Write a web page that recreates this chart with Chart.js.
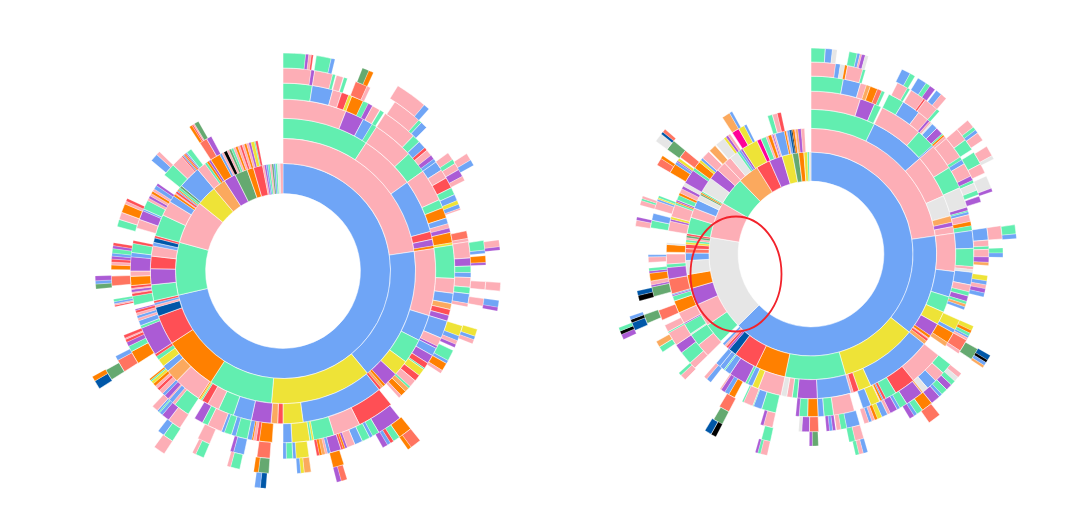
<!DOCTYPE html>
<html>
<head>
<meta charset="utf-8">
<script src="https://cdn.jsdelivr.net/npm/chart.js@4"></script>
<style>
html,body{margin:0;padding:0;background:#fff;width:1085px;height:530px;overflow:hidden}
canvas{position:absolute;filter:blur(0.35px)}
</style>
</head>
<body>
<canvas id="left"></canvas>
<canvas id="right"></canvas>
<script>
// Each token = category key + cumulative degrees clockwise from 12 o'clock at the end of that slice.
// "_" is an empty stretch of a ring.
const L1=("b257 g285.5 p309 y320 l327 v333.5 d340.5 o344 r349 p350 v351 b352 g353 p354 d355 b356 g357 w358.5 p360").split(" ");
const L2=("p81.5 b140.5 y185 g213 o237 r250 n254 p255 b256 r257 g264 v271 r276.5 p281 b282.5 n284.5 r285.5 g295 p301.5 b304.5 o305.5 p306 r307 b307.5 o308 g309 d310 b320 p324 g325 o326 v327 o331.5 b332.5 p333.5 k335 p336 d337 g338 p339 o340 p341 r342 p343 o344 p345 v346 y347.5 g348 r349").split(" ");
const L3=("g33 p54.5 b75 r78 v80.5 o81.5 p107 b117 g126.5 y132.5 v138 o139 l140 r141 b172.4 y180 r182 l184.5 v192 b199 g205 p209.5 r212 g212.5 y213 o213.5 p224 l229 b231.5 y234.5 g236 r237 v248 g249 b251 p252 b253 p254 r255 v255.5 _257 g260.5 r261.5 p262 v263 p263.5 r264.5 o268 p270 v275.4 b277 g280.5 r281.5 _286.4 p289.8 v293.3 b294 g297.5 p298.5 v299.5 p300.5 o301.5 p302.5 b304 v305 _309 g314 p318.5 r319 b319.5 o320 r320.5 b321 g323 _327 s330 v332").split(" ");
const L4=("p21.5 v27.9 b31.3 g33 p47 g54.5 p65.5 g68.4 o72 b74 p75.5 v77 o80.5 y81.3 g92.5 p97.5 b101 l103 r105 v107 b113 p116 v116.8 b119.5 v122.5 r124.5 g125 y127.5 r129.7 p132.3 g133 l134.5 o136.5 p137.5 _141 r153.5 p162.7 g169.7 y170.3 g171 y177 b180 _183.6 o188 r189 p190 o190.5 b192 g196 b197.5 g200 b201 p206 g208 v211 _213.5 g219 p220 b221.5 p222 v223.5 b224.5 p226 r227 p228 o229 y230 g230.5 o231 _237.5 o242 g244 v245.5 r246.5 p247 r248 _258 r258.5 p259 b259.7 g260.5 _265 s268.3 _270.5 o272 p273 r274 v275 b276 g277.5 v278.5 r279.5 _285 g287.5 p290 o293 p294 r295 _310 b312.7 p314 _327 o328 r328.5 p329 d330.5").split(" ");
const L5=("g9 b15.4 p18.2 r20.5 y21.5 o25.3 g27 v28.5 p31 _31.2 g32.5 _33 p44 g46.5 b49 r50 p52 v53.4 b54.5 b57.5 p60.3 r63.7 g66 b68 y69.2 b70.5 p71 _77.6 s80 p81 p86 v88.5 g90.5 b92 p95 g97 b100 p101 _107 y110.3 b111.8 p113 v114 _115 g118.5 b119.5 o122 p123 _141.5 v149.3 g151.5 b152.5 g155 b157.5 p160 v160.7 o161.3 r162 v165.4 b166.3 p167 l168 o168.8 r169.6 _172 y176 b177 g179 b180 _184 s188 _192 b195.3 v196.3 _203 p207 _213.3 p217.5 v220 b221 g221.4 b222 p224 _237.6 s241.6 b243 _264.5 d266 b267 v268.5").split(" ");
const L6=("p8 v9 p14.2 g15 _15.3 p17.3 _17.5 g18.5 _21 s24.5 p25.5 _33.5 p42 g43 b45 _54.4 p56.7 g58 p60 v62.2 p63.5 _81.3 g84.1 b85 _85.7 o87.6 v88.3 _93 p95.3 _97.8 p100 _106.7 y108.8 b109.8 p111 _141 o145 g147 r148 b149 v150.5 _162.5 o165.7 _172 l174 y175 b176 _184 d187 o188.3 _192.3 g195 p196 _203 g205.5 p206.5 _213 g216 b218 _237.6 d240.8").split(" ");
const L7=("g6 v6.8 p7.5 r8 _8.8 g12.8 b13.8 _21.4 d23.2 o24.5 _31.8 p40.4 b42 _57.4 p59.4 b61 _81.8 p83.6 v84.5 _93 p95.3 _97.8 b99.6 v100.6 _141 s144 o145 _162.9 s164.5 v165.7 _184.5 n186 b187.5 _213 p216.2 _237.3 n239.7 o241").split(" ");

const R1=("b225.5 w279.4 p300 g316 l328 r336 v343.5 y349.5 d353 o356 y358 g359 w360").split(" ");
const R2=("p81.7 b128.5 y164 g192 o206 r217 n220.6 v221.5 r222.5 p223.5 b224.5 _226 g235.5 p246 v254 o260.5 w267 b270.5 s272.5 r274.5 y275.5 g276.5 p277.5 d278.5 r279.4 g287 p291.5 b295.5 w298 d298.7 o299.3 g300 w307 v312 p316.5 p320 w324 g325 b326 v327 y334.5 m336.5 g339 p340 o341.5 p342 v342.6 p343.4 b347.7 o348.5 p349 b350 n351 k351.5 o352.5 p353 l354 v355.5 p357").split(" ");
const R3=("g26 b48.7 p66.3 w74.7 l77.3 v79 p81.7 p97 b107.3 g113.7 y119 v124.4 o125.5 p126 r127 l128.5 b155.6 y160.7 r163 p164 b177.5 v185.5 g187.5 p189.7 w192 p201.4 y204 b206 g207 v214 b216.5 g217 b219 b221 _225.5 p231 g236 w236.5 g241 v241.5 p246 o251 g253 v253.5 b254 s260 v264.6 g266 p270 _270.7 o273.8 w274.5 _279.2 p283.2 v284 y285 p290 g290.8 o291.3 v292 g294 o295 p296.8 v298 w299.5 v305.3 g306.5 o309.5 y310.5 b311.5 p315 _315.5 l318.5 _319 w323 y324 v325 p326 _327 m330 y332.5 b333.5 _342.5 g344.5 p346.5 r348").split(" ");
const R4=("p17.7 v23 g25.5 _26 p41.5 g48.2 b48.7 p58 g66 w73.3 v74.5 g75 b76 p78.5 o80 g81.7 b88 g94.5 p95.5 w96.5 b101 p103.5 g105 v107 g108 l109 b110 _114 y117.7 b119 o123 l124.5 _128.5 p141 r148.6 g152.6 r153.5 b154 o154.7 p155 y158.4 b161.4 _164.5 p172 g175.4 b177.5 o181.2 g184.2 v185.4 _192.5 g197.7 b200.7 g201 p204.5 g205 _208 o210.4 b212 v213.5 p214 _218 b219.8 p221 _225.5 p228 g232.7 v236 p241 g241.5 p244 _246 s249.7 _254.8 d258.3 v259 p260.4 o263.2 v264 g265 _267 p269 b269.7 _279.3 g282 b284.5 _286 p289 b289.7 y290.2 g291 _300 o303.5 b304.5 v305 y306 _306.5 s309.5 _327 l330 b331").split(" ");
const R5=("g10.5 b16.2 p18.2 l19.5 o22 s23.5 g24.5 _26 g31.3 b37.3 p41 v41.8 p42.5 w43 b45 v47.5 g48 o48.6 p49.5 p57 g58 b59.5 p64 v65.5 g66.5 w69 g70.5 _71 v73 _81.5 b85.5 p87.5 g88.5 p91 v92.7 l93.7 _97 y98.7 b100 p101.3 v102.7 b104 _114 y115.5 o116.5 g117.5 b118.2 p119 s123 p124 _128.4 g132 p135.5 b139 w141 l141.5 v147.4 g150 b151 v153.5 p154.5 b156.5 y158 o159 p160 b161 p162.5 _164 b168.4 g170.3 p171.7 _172 v173 b174 v175 _177.5 s180.5 v183 w184 _192.5 p195.5 v196.5 _207.5 s211 _225 p227 g228 _236.5 g238.5 l240.5 _247 d250 _254.7 k256.5 n258 _279 p281 v282 _286 p287.5 g288.2 p289 _300 s302.5 o303.5 _306 d309.5").split(" ");
const R6=("p7.4 b8.8 w10.2 o11 p15.7 g16.5 _26.8 p30.2 g31 _31.5 p36 r36.6 p41 g42 _49.5 p53.5 g57 _58 g62 p65 _66 w70 v71 _81.5 p85.5 _88.2 g89.7 b91 _119.7 d123.3 _128.5 p130 w131.5 g133 v135 g137 b138 v141 o144.5 g146.5 b147.5 v149 _164 p166.7 g168.5 _177.8 d179.6 v180.5 _192.2 g195 _207.5 d210.5 _246.5 n249 k250 b251 _306 w308.7 n309.5 s310.5").split(" ");
const R7=("g4 b6 w7.3 _10.7 g13 b13.8 p14.3 v15.3 w16.2 _26.2 b28.8 g30.3 _31.3 b34 g35.3 v37 _37.5 b39.2 p41 _49.5 p52 g53 b54 p56.5 _58.5 p61.5 w62.5 _81.8 g84.4 b85.7 _119.5 n121 k121.8 b122.8 l123.5 _141.3 s145 _164 b165.3 p166.5 g167.5 _192.3 p194.2 g195 v195.7 _207.5 k209 n211 _245.5 v247 k248 g249").split(" ");

const palette={b:'#6fa5f6',p:'#fdaeb6',g:'#62eeb0',y:'#eee337',o:'#ff8000',r:'#ff4f55',v:'#ab5bd5',
  s:'#ff7460',l:'#fba95e',d:'#65a970',n:'#0057a8',k:'#000000',w:'#e6e6e6',m:'#ff0099',_:'rgba(0,0,0,0)'};
const leftRadii=[78,108,133,153,172,188,203,218];
const rightRadii=[73.5,102.5,126,145,163,178,192,206];
const leftCentre=[283,270.5], rightCentre=[810.5,253.5];

function ringDataset(tokens,weight){
  const data=[],bg=[],bw=[];let prev=0;
  tokens.forEach(t=>{
    const k=t[0],end=parseFloat(t.slice(1)),span=end-prev;
    data.push(span);bg.push(palette[k]);
    bw.push(k==='_'?0:(span<2?0.25:0.6));prev=end;
  });
  if(prev<360){data.push(360-prev);bg.push(palette._);bw.push(0);}
  return {data,backgroundColor:bg,borderColor:'rgba(255,255,255,0.9)',borderWidth:bw,weight,borderAlign:'center'};
}
const ellipsePlugin={id:'ring',afterDraw(chart){
  if(chart.canvas.id!=='right')return;
  const c=chart.ctx,cx=chart.width/2,cy=chart.height/2;
  c.save();c.strokeStyle='#f2222b';c.lineWidth=1.8;c.beginPath();
  c.ellipse(cx-75,cy+20,45.5,57.5,0,0,Math.PI*2);c.stroke();c.restore();
}};
function draw(id,rings,radii,centre){
  const R=radii[radii.length-1],size=Math.ceil(2*R)+4;
  const el=document.getElementById(id);
  el.style.left=(centre[0]-size/2)+'px';el.style.top=(centre[1]-size/2)+'px';
  el.width=size;el.height=size;el.style.width=size+'px';el.style.height=size+'px';
  const datasets=rings.map((t,i)=>ringDataset(t,radii[i+1]-radii[i])).reverse();
  new Chart(el,{type:'doughnut',data:{labels:[],datasets},plugins:[ellipsePlugin],options:{
    responsive:false,animation:false,cutout:radii[0],radius:R,
    layout:{padding:0},events:[],
    plugins:{legend:{display:false},tooltip:{enabled:false}}}});
}
draw('left',[L1,L2,L3,L4,L5,L6,L7],leftRadii,leftCentre);
draw('right',[R1,R2,R3,R4,R5,R6,R7],rightRadii,rightCentre);
</script>
</body>
</html>
